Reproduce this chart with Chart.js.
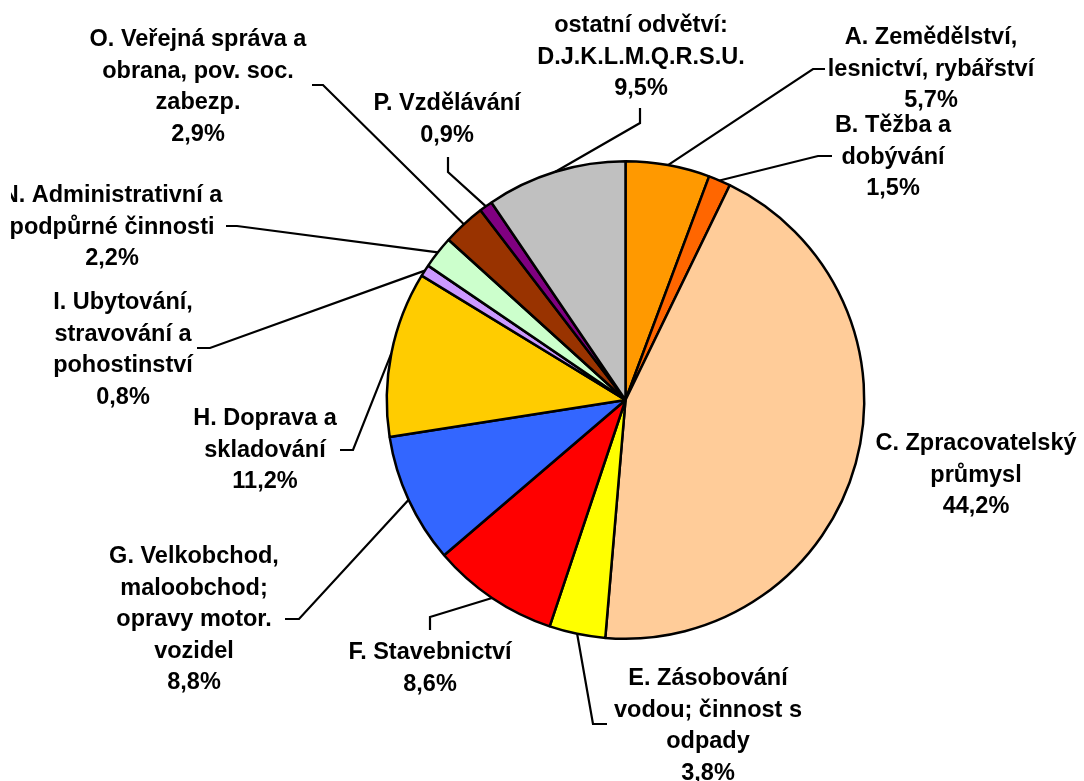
<!DOCTYPE html>
<html>
<head>
  <meta charset="utf-8">
  <title>Odvětví</title>
  <script src="https://cdn.jsdelivr.net/npm/chart.js"></script>
  <style>
    html, body { margin: 0; padding: 0; background: #fff; }
    #wrap { width: 1084px; height: 781px; }
  </style>
</head>
<body>
<div id="wrap"><canvas id="pie" width="1084" height="781"></canvas></div>

<script>
// category names (split into lines as in the picture)
var categories = [
  ['A. Zemědělství,', 'lesnictví, rybářství'],
  ['B. Těžba a', 'dobývání'],
  ['C. Zpracovatelský', 'průmysl'],
  ['E. Zásobování', 'vodou; činnost s', 'odpady'],
  ['F. Stavebnictví'],
  ['G. Velkobchod,', 'maloobchod;', 'opravy motor.', 'vozidel'],
  ['H. Doprava a', 'skladování'],
  ['I. Ubytování,', 'stravování a', 'pohostinství'],
  ['N. Administrativní a', 'podpůrné činnosti'],
  ['O. Veřejná správa a', 'obrana, pov. soc.', 'zabezp.'],
  ['P. Vzdělávání'],
  ['ostatní odvětví:', 'D.J.K.L.M.Q.R.S.U.']
];
var shares = [5.7, 1.5, 44.2, 3.8, 8.6, 8.8, 11.2, 0.8, 2.2, 2.9, 0.9, 9.5];
var colors = ['#FF9900', '#FF6600', '#FFCC99', '#FFFF00', '#FF0000', '#3366FF',
              '#FFCC00', '#CC99FF', '#CCFFCC', '#993300', '#800080', '#C0C0C0'];

// label placement: text centre x, first line y, leader elbow points (null = no leader)
var labelPos = [
  {x: 931, y: 38,  lead: [[825, 69], [813, 69]]},
  {x: 893, y: 126, lead: [[832, 156], [818, 156]]},
  {x: 976, y: 444, lead: null},
  {x: 708, y: 679, lead: [[607, 724], [593, 724]]},
  {x: 430, y: 653, lead: [[430, 630], [430, 617]]},
  {x: 194, y: 557, lead: [[285, 619], [299, 619]]},
  {x: 265, y: 419, lead: [[340, 450], [353, 450]]},
  {x: 123, y: 303, lead: [[197, 348], [210, 348]]},
  {x: 112, y: 196, lead: [[226, 226], [237, 226]]},
  {x: 198, y: 40,  lead: [[312, 85], [323, 85]]},
  {x: 447, y: 104, lead: [[448, 157], [448, 172]]},
  {x: 641, y: 26,  lead: [[640, 108], [640, 123]]}
];
var lineGap = 31.5;

function pct(v) {
  return v.toFixed(1).replace('.', ',') + '%';
}

var labelPlugin = {
  id: 'sliceLabels',
  afterDatasetsDraw: function(chart) {
    var ctx = chart.ctx;
    var arcs = chart.getDatasetMeta(0).data;
    ctx.save();
    // leader lines
    ctx.strokeStyle = '#000';
    ctx.lineWidth = 2.2;
    arcs.forEach(function(arc, i) {
      var lp = labelPos[i];
      if (!lp.lead) return;
      var p = arc.getProps(['x', 'y', 'startAngle', 'endAngle', 'outerRadius'], true);
      var mid = (p.startAngle + p.endAngle) / 2;
      var ex = p.x + Math.cos(mid) * p.outerRadius;
      var ey = p.y + Math.sin(mid) * p.outerRadius;
      ctx.beginPath();
      ctx.moveTo(lp.lead[0][0], lp.lead[0][1]);
      ctx.lineTo(lp.lead[1][0], lp.lead[1][1]);
      ctx.lineTo(ex, ey);
      ctx.stroke();
    });
    // texts (the original cuts labels off a little inside the left edge)
    ctx.beginPath();
    ctx.rect(11, 0, chart.width - 11, chart.height);
    ctx.clip();
    ctx.fillStyle = '#000';
    ctx.font = 'bold 23.5px "Liberation Sans", Arial, sans-serif';
    ctx.textAlign = 'center';
    ctx.textBaseline = 'middle';
    categories.forEach(function(lines, i) {
      var lp = labelPos[i];
      var all = lines.concat([pct(shares[i])]);
      all.forEach(function(t, k) {
        ctx.fillText(t, lp.x, lp.y + k * lineGap);
      });
    });
    ctx.restore();
  }
};

new Chart(document.getElementById('pie'), {
  type: 'pie',
  data: {
    labels: categories.map(function(c) { return c.join(' '); }),
    datasets: [{
      data: shares,
      backgroundColor: colors,
      borderColor: '#000',
      borderWidth: 2.5
    }]
  },
  options: {
    responsive: false,
    animation: false,
    layout: { padding: { left: 385, right: 218, top: 160, bottom: 141 } },
    plugins: {
      legend: { display: false },
      tooltip: { enabled: false }
    }
  },
  plugins: [labelPlugin]
});
</script>
</body>
</html>
